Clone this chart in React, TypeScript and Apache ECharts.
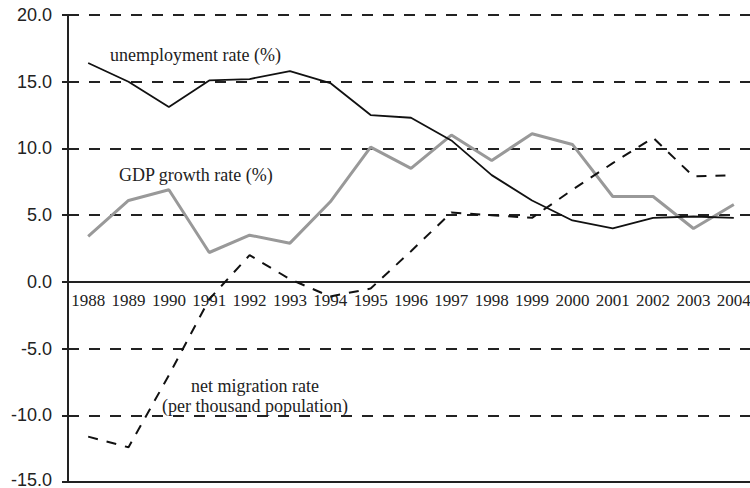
import React, { useEffect, useRef } from "react";
import * as echarts from "echarts";

const years = ["1988", "1989", "1990", "1991", "1992", "1993", "1994", "1995", "1996", "1997", "1998", "1999", "2000", "2001", "2002", "2003", "2004"];
const unemploymentRate = [16.4, 15.0, 13.1, 15.1, 15.2, 15.8, 14.9, 12.5, 12.3, 10.6, 8.0, 6.1, 4.6, 4.0, 4.8, 4.9, 4.8];
const gdpGrowthRate = [3.4, 6.1, 6.9, 2.2, 3.5, 2.9, 6.0, 10.1, 8.5, 11.0, 9.1, 11.1, 10.3, 6.4, 6.4, 4.0, 5.8];
const netMigrationRate = [-11.6, -12.4, -7.0, -1.3, 2.0, 0.2, -1.1, -0.5, 2.3, 5.2, 5.0, 4.8, 6.9, 8.9, 10.8, 7.9, 8.0];
const seriesNames = ["unemployment rate (%)", "GDP growth rate (%)", "net migration rate", "(per thousand population)"];
const yMin = -15;
const yMax = 20;

const SERIF = "Liberation Serif";
const SANS = "Liberation Sans";
const INK = "#222";
const GRID_H = 467;

export default function App() {
  const ref = useRef<HTMLDivElement>(null);
  useEffect(() => {
    if (!ref.current) return;
    const chart = echarts.init(ref.current, null, { renderer: "svg" });
    chart.setOption({
      animation: false,
      backgroundColor: "#fff",
      textStyle: { fontFamily: SERIF },
      grid: { left: 68, top: 15, width: 686, height: GRID_H, containLabel: false, outerBoundsMode: "none" },
      xAxis: {
        type: "category",
        data: years,
        boundaryGap: true,
        position: "bottom",
        offset: -GRID_H * (0 - yMin) / (yMax - yMin),
        axisLine: { onZero: false, lineStyle: { color: INK, width: 2 } },
        axisTick: { show: false },
        axisLabel: { color: INK, fontFamily: SERIF, fontSize: 17, margin: 10, interval: 0 },
        splitLine: { show: false },
      },
      yAxis: {
        type: "value",
        min: yMin,
        max: yMax,
        interval: 5,
        axisLine: { show: true, lineStyle: { color: INK, width: 2 } },
        axisTick: { show: true, length: 6, lineStyle: { color: INK, width: 2 } },
        axisLabel: {
          color: INK,
          fontFamily: SANS,
          fontSize: 18,
          margin: 16,
          formatter: (v: number) => (v === yMin ? `{low|${v.toFixed(1)}}` : v.toFixed(1)),
          rich: {
            low: { fontFamily: SANS, fontSize: 18, color: INK, padding: [0, 0, 5, 0] },
          },
        },
        splitLine: { show: true, lineStyle: { color: INK, width: 2, type: [11, 10] } },
      },
      series: [
        {
          name: seriesNames[1],
          type: "line",
          data: gdpGrowthRate,
          showSymbol: false,
          lineStyle: { color: "#999", width: 3 },
          z: 3,
          markLine: {
            silent: true,
            symbol: "none",
            label: { show: false },
            lineStyle: { color: INK, width: 2, type: "solid" },
            data: [{ yAxis: yMin }],
          },
        },
        {
          name: seriesNames[0],
          type: "line",
          data: unemploymentRate,
          showSymbol: false,
          lineStyle: { color: "#111", width: 1.8 },
          z: 4,
        },
        {
          name: seriesNames[2],
          type: "line",
          data: netMigrationRate,
          showSymbol: false,
          lineStyle: { color: "#111", width: 2, type: [10, 9] },
          z: 4,
        },
      ],
      graphic: [
        {
          type: "text",
          x: 110,
          y: 55,
          style: { text: seriesNames[0], fontFamily: SERIF, fontSize: 18, fill: INK, verticalAlign: "middle" },
        },
        {
          type: "text",
          x: 119,
          y: 175,
          style: { text: seriesNames[1], fontFamily: SERIF, fontSize: 18, fill: INK, verticalAlign: "middle" },
        },
        {
          type: "text",
          x: 255,
          y: 386,
          style: { text: seriesNames[2], fontFamily: SERIF, fontSize: 18, fill: INK, align: "center", verticalAlign: "middle" },
        },
        {
          type: "text",
          x: 255,
          y: 406,
          style: { text: seriesNames[3], fontFamily: SERIF, fontSize: 18, fill: INK, align: "center", verticalAlign: "middle" },
        },
      ],
    });
    return () => chart.dispose();
  }, []);
  return (
    <div
      ref={ref}
      style={{ position: "absolute", left: 0, top: 0, width: 750, height: 488 }}
    />
  );
}
